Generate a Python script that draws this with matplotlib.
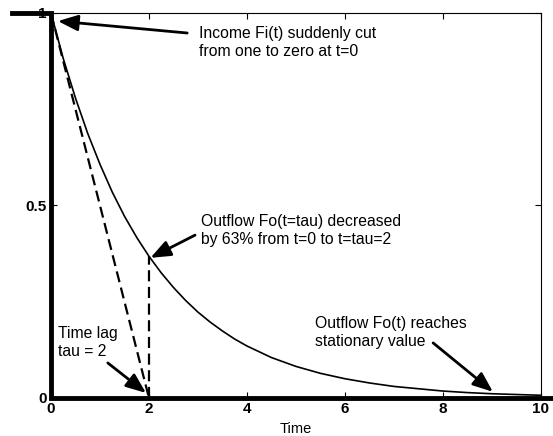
import numpy as np
import matplotlib.pyplot as plt

plt.rcParams['font.family'] = ['Liberation Sans', 'DejaVu Sans']

# outflow Fo(t), tau = 2
t_out = [0, 0.25, 0.5, 0.75, 1, 1.25, 1.5, 1.75, 2, 2.25, 2.5, 2.75, 3, 3.25, 3.5,
         3.75, 4, 4.5, 5, 5.5, 6, 6.5, 7, 7.5, 8, 8.5, 9, 9.5, 10]
f_out = [1.000, 0.882, 0.779, 0.687, 0.607, 0.535, 0.472, 0.417, 0.368, 0.325,
         0.287, 0.253, 0.223, 0.197, 0.174, 0.153, 0.135, 0.105, 0.082, 0.064,
         0.050, 0.039, 0.030, 0.024, 0.018, 0.014, 0.011, 0.009, 0.007]

# income Fi(t): one before t=0, zero after
t_in = [-0.8, 0, 0, 10.4]
f_in = [1, 1, 0, 0]

# tangent at t=0 hitting zero at t=tau, and drop line at tau
tau = 2
t_tan = [0, tau]
f_tan = [1, 0]
t_drop = [tau, tau]
f_drop = [0, 0.368]

fig = plt.figure(figsize=(5.53, 4.36), dpi=100)
ax = fig.add_axes([0.0922, 0.0872, 0.886, 0.883])

ax.plot(t_out, f_out, color='black', lw=1.2)
ax.plot(t_tan, f_tan, '--', color='black', lw=1.6, dashes=(5, 2.5))
ax.plot(t_drop, f_drop, '--', color='black', lw=1.6, dashes=(5, 2.5))
ax.plot(t_in, f_in, color='black', lw=3.5, clip_on=False, solid_joinstyle='miter', zorder=5)

ax.set_xlim(0, 10)
ax.set_ylim(0, 1)
ax.set_xticks([0, 2, 4, 6, 8, 10])
ax.set_yticks([0, 0.5, 1])
ax.set_yticklabels(['0', '0.5', '1'])
ax.tick_params(direction='in', top=True, right=True, length=4, width=0.8, pad=3)
for lab in ax.get_xticklabels() + ax.get_yticklabels():
    lab.set_fontweight('bold')
    lab.set_fontsize(11)
for sp in ax.spines.values():
    sp.set_linewidth(0.8)
ax.set_xlabel('Time', fontsize=10.5, labelpad=4)

arrow = dict(arrowstyle='-|>,head_length=0.55,head_width=0.22', color='black',
             lw=2, mutation_scale=22, shrinkA=0, shrinkB=0)
txt = dict(fontsize=11.3, va='center', ha='left', linespacing=1.25)

ax.annotate('', xy=(0.14, 0.979), xytext=(2.78, 0.948), arrowprops=arrow)
ax.text(3.02, 0.923, 'Income Fi(t) suddenly cut\nfrom one to zero at t=0', **txt)

ax.annotate('', xy=(2.03, 0.364), xytext=(2.94, 0.423), arrowprops=arrow)
ax.text(3.06, 0.435, 'Outflow Fo(t=tau) decreased\nby 63% from t=0 to t=tau=2', **txt)

ax.annotate('', xy=(1.94, 0.013), xytext=(1.16, 0.091), arrowprops=arrow)
ax.text(0.14, 0.145, 'Time lag\ntau = 2', **txt)

ax.annotate('', xy=(9.02, 0.016), xytext=(7.8, 0.143), arrowprops=arrow)
ax.text(5.39, 0.17, 'Outflow Fo(t) reaches\nstationary value', **txt)

fig.savefig('out.png', dpi=100)
